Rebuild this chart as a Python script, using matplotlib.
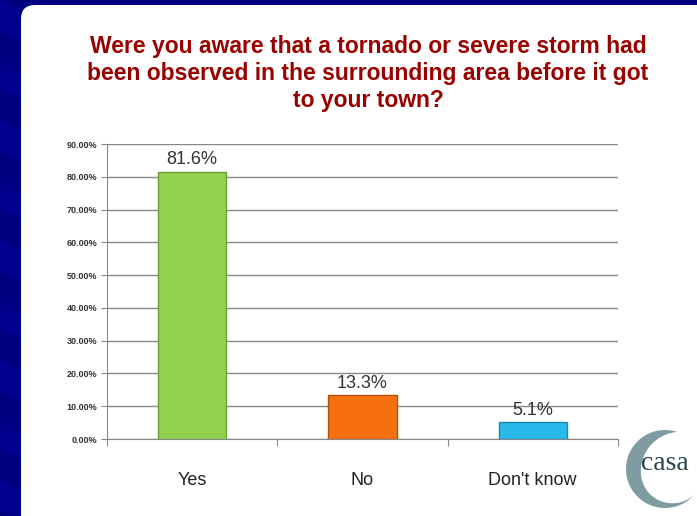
import matplotlib.pyplot as plt
import numpy as np
from matplotlib.patches import FancyBboxPatch
from matplotlib.ticker import PercentFormatter

plt.rcParams['font.family'] = ['Liberation Sans', 'DejaVu Sans']

categories = ['Yes', 'No', "Don't know"]
values = [0.816, 0.133, 0.051]
value_labels = ['81.6%', '13.3%', '5.1%']
bar_colors = ['#92D050', '#F7700F', '#2BB8EA']
edge_colors = ['#6E9E3C', '#B8500A', '#1A88B0']

fig = plt.figure(figsize=(6.97, 5.16), dpi=100)
fig.patch.set_facecolor('#000080')

# blue slide background with a few diagonal bands, pixel coords
bg = fig.add_axes([0, 0, 1, 1], zorder=-2)
bg.set_xlim(0, 697)
bg.set_ylim(516, 0)
bg.axis('off')
for k in range(-2, 12):
    y0 = k * 60
    bg.fill([0, 30, 30, 0], [y0, y0 + 15, y0 + 45, y0 + 30], color='#00008C', lw=0)
# white slide area
bg.add_patch(FancyBboxPatch((21, 5), 720, 560, boxstyle='round,pad=0,rounding_size=14',
                            fc='white', ec='none'))

# casa logo: crescent + text
th = np.linspace(np.radians(72), np.radians(320), 100)
cx, cy, r = 665, 469, 39
u = (th - th[0]) / (th[-1] - th[0])
t = 15 * np.sin(np.pi * u ** 0.75) ** 1.3
ox, oy = cx + r * np.cos(th), cy - r * np.sin(th)
ix, iy = cx + (r - t) * np.cos(th), cy - (r - t) * np.sin(th)
bg.fill(np.r_[ox, ix[::-1]], np.r_[oy, iy[::-1]], color='#7F9CA2', lw=0)
bg.text(641, 463, 'casa', ha='left', va='center', fontsize=20,
        family='Liberation Serif', color='#2A4650', zorder=5)

# title
fig.text(0.528, 0.858,
         'Were you aware that a tornado or severe storm had\n'
         'been observed in the surrounding area before it got\n'
         'to your town?',
         ha='center', va='center', fontsize=16.5, fontweight='bold',
         color='#990000', linespacing=1.22)

ax = fig.add_axes([0.1535, 0.1492, 0.733, 0.5717])
x = np.arange(len(categories))
ax.bar(x, values, width=0.4, color=bar_colors, edgecolor=edge_colors, linewidth=1, zorder=3)
for xi, v, lab in zip(x, values, value_labels):
    ax.text(xi, v + 0.01, lab, ha='center', va='bottom', fontsize=13, color='#333333', zorder=4)

ax.set_xlim(-0.5, 2.5)
ax.set_ylim(0, 0.9)
ax.set_yticks(np.arange(0, 0.91, 0.1))
ax.yaxis.set_major_formatter(PercentFormatter(1.0, decimals=2))
ax.tick_params(axis='y', labelsize=6.5, length=4, color='#888888', pad=3, labelcolor='#333333')
for lbl in ax.get_yticklabels():
    lbl.set_fontweight('bold')
ax.grid(axis='y', color='#888888', linewidth=1, zorder=0)

ax.set_xticks([-0.5, 0.5, 1.5, 2.5])
ax.set_xticklabels([])
ax.set_xticks(x, minor=True)
ax.set_xticklabels(categories, minor=True)
ax.tick_params(axis='x', which='major', length=5, color='#888888', direction='out')
ax.tick_params(axis='x', which='minor', length=0, labelsize=13, pad=24, labelcolor='#222222')

for s in ['top', 'right']:
    ax.spines[s].set_visible(False)
ax.spines['left'].set_color('#888888')
ax.spines['bottom'].set_color('#888888')

fig.savefig('out.png', dpi=100)
